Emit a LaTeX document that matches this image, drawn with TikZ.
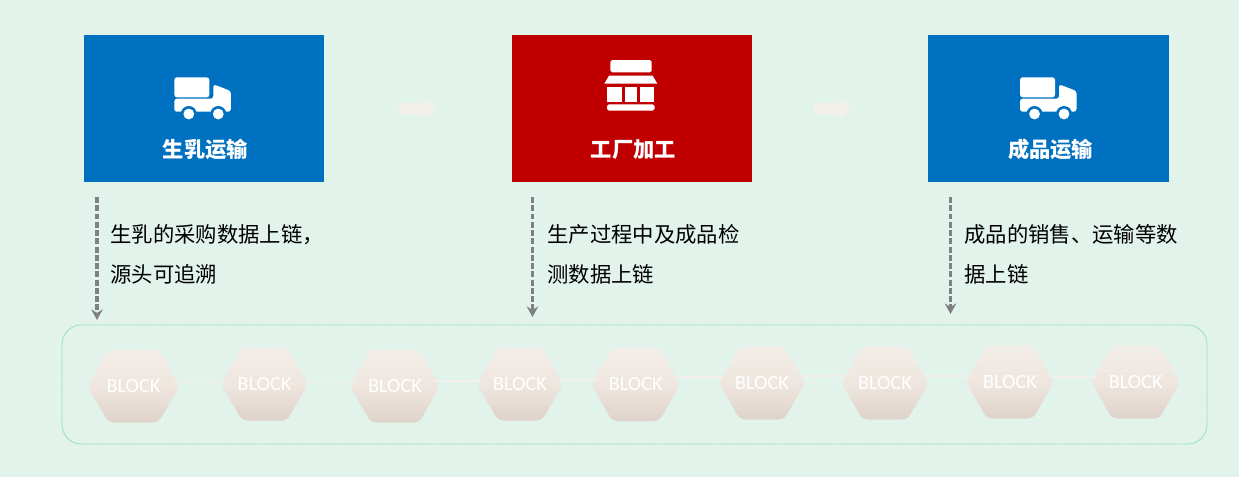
\documentclass[tikz,border=0pt]{standalone}
\usepackage{fontspec}
\usetikzlibrary{shapes.arrows,arrows.meta}
\newfontfamily\cjk{Noto Sans CJK SC}
\newfontfamily\blockfont{Carlito}
\definecolor{bgcolor}{HTML}{E2F3EB}
\definecolor{boxblue}{HTML}{0070C0}
\definecolor{boxred}{HTML}{C00000}
\definecolor{arrowcolor}{HTML}{F3EFEA}
\definecolor{hextop}{HTML}{F4EEE8}
\definecolor{hexbottom}{HTML}{DFD3CA}
\definecolor{chainline}{HTML}{8FDDBB}
\tikzset{
  stagebox/.style={rectangle, minimum width=240*0.02cm, minimum height=147*0.02cm, inner sep=0pt},
  stagetitle/.style={text=white, font=\cjk\bfseries\fontsize{12.1}{14}\selectfont},
  notetext/.style={anchor=north west, align=left, inner sep=0pt, font=\cjk\fontsize{12.15}{22.8}\selectfont},
  bigarrow/.style={single arrow, fill=arrowcolor, minimum height=37*0.02cm, single arrow head extend=5.2*0.02cm, single arrow tip angle=90, inner sep=0pt},
  uplink/.style={dash pattern=on 3.4pt off 1.3pt, line width=2pt, draw=black!50, -{Stealth[length=6pt,width=6.5pt]}},
  blocklabel/.style={rectangle, minimum width=78*0.02cm, minimum height=72*0.02cm, inner sep=0pt, text=white, font=\blockfont\fontsize{11.5}{13}\selectfont},
  blocklink/.style={line width=0.6pt, draw=arrowcolor}
}
% hexagon body, centre #1,#2, half width #3
\newcommand{\hexbody}[3]{
  \shade[top color=hextop, bottom color=hexbottom, middle color=hextop!70!hexbottom, rounded corners=3pt, shift={(#1,#2)}]
    (-#3,0) -- (-#3+21,-36.5) -- (#3-21,-36.5) -- (#3,0) -- (#3-21,36.5) -- (-#3+21,36.5) -- cycle;
}
% truck icon, left edge #1
\newcommand{\truckicon}[1]{
  \begin{scope}[shift={(#1,0)}]
    \fill[white, rounded corners=1.5pt] (0,77.3) -- (35,77.3) -- (35,97.3) -- (0,97.3) -- cycle;
    \fill[white, rounded corners=1.5pt] (0,98.7) -- (39,98.7) -- (39,84.3) -- (56.5,91) -- (56.5,111.7) -- (0,111.7) -- cycle;
    \fill[boxblue] (14.5,114) circle (8) (44,114) circle (8);
    \fill[white] (14.5,114) circle (5.4) (44,114) circle (5.4);
  \end{scope}
}
\begin{document}
\begin{tikzpicture}[x=0.02cm, y=-0.02cm]
    \useasboundingbox (0,0) rectangle (1239,477);
    \fill[bgcolor] (0,0) rectangle (1239,477);

    % stages
    \node[stagebox, fill=boxblue] (milkbox) at (204,108.5) {};
    \node[stagebox, fill=boxred] (plantbox) at (632,108.5) {};
    \node[stagebox, fill=boxblue, minimum width=241*0.02cm] (goodsbox) at (1048.5,108.5) {};

    \truckicon{174.3}
    \truckicon{1020}

    % shop icon
    \fill[white, rounded corners=1pt] (610.3,60) rectangle (651.7,72.3);
    \fill[white] (609,75.7) -- (652.7,75.7) -- (657.3,83.7) -- (604.3,83.7) -- cycle;
    \fill[white] (607.3,87.3) rectangle (621.7,101.7);
    \fill[white] (625,87.3) rectangle (637,101.7);
    \fill[white] (639.7,87.3) rectangle (654.3,101.7);
    \fill[white, rounded corners=1pt] (607,104.3) rectangle (654.5,110.7);

    \node[stagetitle] (milktitle) at (205.5,149.5) {生乳运输};
    \node[stagetitle] (planttitle) at (633.5,149.5) {工厂加工};
    \node[stagetitle] (goodstitle) at (1050.5,149.5) {成品运输};

    \node[bigarrow] (arrow1) at (414.5,108.8) {\rule{0pt}{6pt}};
    \node[bigarrow] (arrow2) at (830,108.8) {\rule{0pt}{6pt}};

    % notes
    \node[notetext] (note1) at (110,224) {生乳的采购数据上链，\\源头可追溯};
    \node[notetext] (note2) at (547,224) {生产过程中及成品检\\测数据上链};
    \node[notetext] (note3) at (964,224) {成品的销售、运输等数\\据上链};

    % block chain
    \node[rectangle, draw=chainline, dash pattern=on 0.8pt off 0.3pt, line width=0.5pt, rounded corners=11pt, minimum width=1145*0.02cm, minimum height=119*0.02cm, inner sep=0pt] (chain) at (634.5,384.5) {};

    \coordinate (start1) at (97,197);
    \coordinate (end1) at (97,320);
    \coordinate (start2) at (532.5,197);
    \coordinate (end2) at (532.5,317);
    \coordinate (start3) at (950.5,197);
    \coordinate (end3) at (950.5,314);
    \draw[uplink] (start1) -- (end1);
    \draw[uplink] (start2) -- (end2);
    \draw[uplink] (start3) -- (end3);

    \hexbody{133.5}{386}{46}
    \hexbody{264.5}{384}{43.5}
    \hexbody{395}{386}{45}
    \hexbody{520}{384}{43}
    \hexbody{635.7}{384.5}{44.5}
    \hexbody{762}{383}{43}
    \hexbody{885}{383}{43.5}
    \hexbody{1010}{382}{44}
    \hexbody{1135.7}{382}{44.5}

    \node[blocklabel] (block1) at (133.5,386) {BLOCK};
    \node[blocklabel] (block2) at (264.5,384) {BLOCK};
    \node[blocklabel] (block3) at (395,386) {BLOCK};
    \node[blocklabel] (block4) at (520,384) {BLOCK};
    \node[blocklabel] (block5) at (635.7,384.5) {BLOCK};
    \node[blocklabel] (block6) at (762,383) {BLOCK};
    \node[blocklabel] (block7) at (885,383) {BLOCK};
    \node[blocklabel] (block8) at (1010,382) {BLOCK};
    \node[blocklabel] (block9) at (1135.7,382) {BLOCK};

    \foreach \a/\b/\y in {1/2/381.7,2/3/381.7,3/4/381,4/5/380,5/6/377,6/7/376,7/8/376,8/9/377}
      \draw[blocklink] (block\a.east |- 0,\y) -- (block\b.west |- 0,\y);
\end{tikzpicture}
\end{document}
